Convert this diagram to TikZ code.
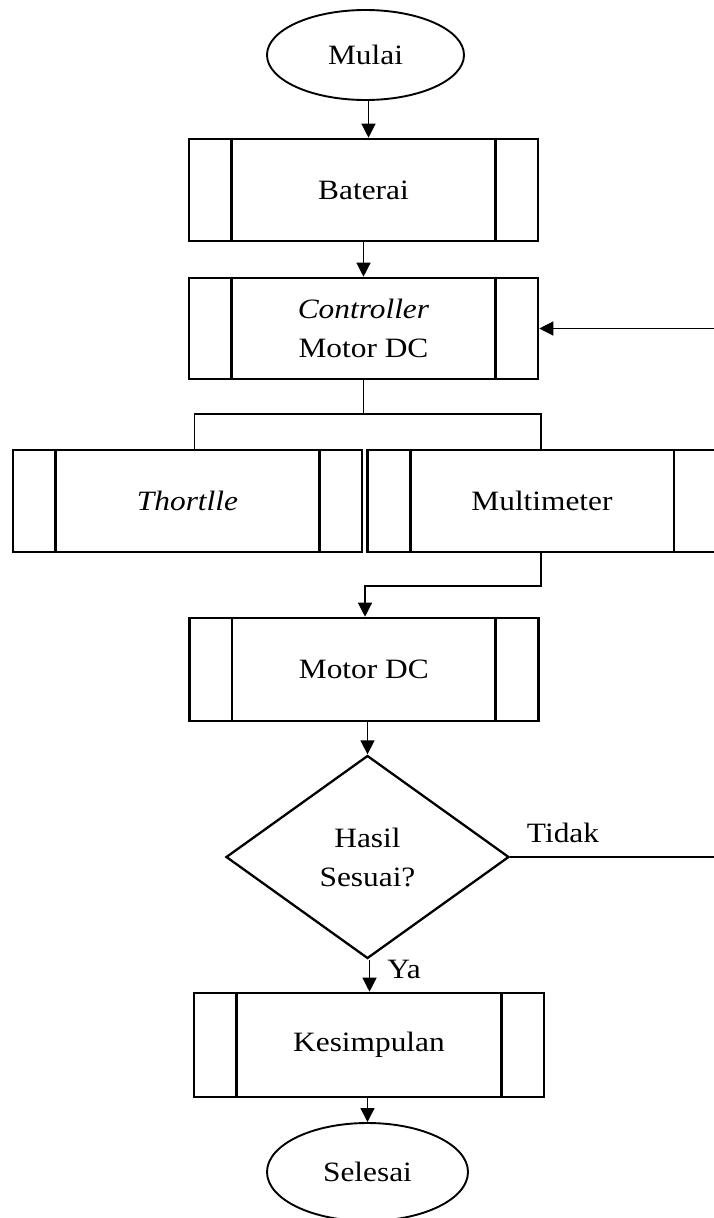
\documentclass[tikz,border=0pt]{standalone}
\usepackage{fontspec}
\setmainfont{Liberation Serif}[FakeStretch=1.12]
\usetikzlibrary{shapes.geometric,arrows.meta}
\begin{document}
\begin{tikzpicture}[x=1pt,y=-1pt,
  every node/.style={font=\fontsize{28}{39}\selectfont, align=center, inner sep=0pt},
  subproc/.style={draw, line width=2.6pt, rectangle},
  term/.style={draw, line width=1.9pt, ellipse},
  decis/.style={draw, line width=2.3pt, diamond},
  conn/.style={line width=1.3pt},
  arr/.style={conn, -{Triangle[length=14pt,width=14pt]}},
  lbl/.style={}]
\useasboundingbox (0,0) rectangle (714,1218);
\fill[white] (0,0) rectangle (714,1218);

\node[term, minimum width=197pt, minimum height=90pt] (mulai) at (365.5,55) {Mulai};
\node[subproc, minimum width=349pt, minimum height=102pt] (bat) at (363.5,190) {Baterai};
\node[subproc, minimum width=349pt, minimum height=101pt] (ctrl) at (363.5,328.5) {\textit{Controller}\\Motor DC};
\node[subproc, minimum width=349pt, minimum height=102pt] (thr) at (187.5,501) {\textit{Thortlle}};
\node[subproc, minimum width=349pt, minimum height=102pt] (mul) at (542,501) {Multimeter};
\node[subproc, minimum width=349pt, minimum height=103pt] (mot) at (363.8,669.5) {Motor DC};
\node[decis, minimum width=283pt, minimum height=203pt] (dia) at (367.5,857) {Hasil\\Sesuai?};
\node[subproc, minimum width=350pt, minimum height=104pt] (kes) at (369,1045) {Kesimpulan};
\node[term, minimum width=201pt, minimum height=98pt] (sel) at (367.5,1172) {Selesai};

\foreach \n in {bat,ctrl,thr,mul,mot,kes} {
  \draw[line width=2.6pt] ([xshift=44pt]\n.north west) -- ([xshift=44pt]\n.south west);
  \draw[line width=2.6pt] ([xshift=-44pt]\n.north east) -- ([xshift=-44pt]\n.south east);
}

\node[lbl] (tidak) at (563,833) {Tidak};
\node[lbl] (ya) at (404,969) {Ya};

\coordinate (jl) at (194.5,414);
\coordinate (jr) at (541,414);
\coordinate (m1) at (365,586);
\coordinate (fb) at (718,857);

\draw[arr] ([xshift=3pt]mulai.south) -- ([xshift=3pt]mulai.south |- bat.north);
\draw[arr] (bat.south) -- (ctrl.north);
\draw[conn] (ctrl.south) |- (jl) -- (jl |- thr.north);
\draw[conn] (ctrl.south) |- (jr) -- (jr |- mul.north);
\draw[arr] (mul.south -| jr) |- (m1) -- (m1 |- mot.north);
\draw[arr] (dia.north |- mot.south) -- (dia.north);
\draw[arr] ([xshift=2pt]dia.south) -- ([xshift=2pt]dia.south |- kes.north);
\draw[conn] (dia.east) -- (fb);
\draw[arr] (fb) |- (ctrl.east);
\draw[arr] (sel.north |- kes.south) -- (sel.north);
\end{tikzpicture}
\end{document}
